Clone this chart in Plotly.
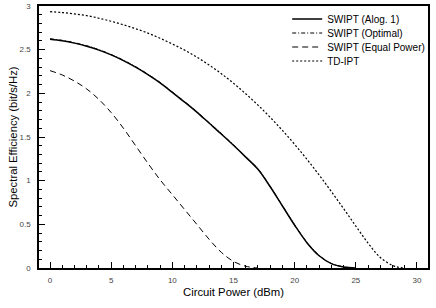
import plotly.graph_objects as go

# Circuit power (dBm) and spectral efficiency (bit/s/Hz)
x_alg1 = [0, 1, 2, 3, 4, 5, 6, 7, 8, 9, 10, 11, 12, 13, 14, 15, 16, 17, 18, 19, 20, 21, 22, 23, 24, 25]
y_alg1 = [2.62, 2.602, 2.575, 2.54, 2.495, 2.44, 2.375, 2.30, 2.215, 2.12, 2.01, 1.90, 1.785, 1.66, 1.535, 1.405, 1.27, 1.13, 0.93, 0.71, 0.49, 0.29, 0.14, 0.05, 0.012, 0.0]

x_opt = [0, 1, 2, 3, 4, 5, 6, 7, 8, 9, 10, 11, 12, 13, 14, 15, 16, 17, 18, 19, 20, 21, 22, 23, 24, 25]
y_opt = [2.625, 2.607, 2.58, 2.545, 2.50, 2.445, 2.38, 2.305, 2.22, 2.125, 2.015, 1.905, 1.79, 1.665, 1.54, 1.41, 1.275, 1.135, 0.935, 0.715, 0.495, 0.295, 0.145, 0.052, 0.013, 0.0]

x_eq = [0, 1, 2, 3, 4, 5, 6, 7, 8, 9, 10, 11, 12, 13, 14, 15, 16, 17]
y_eq = [2.26, 2.21, 2.14, 2.05, 1.93, 1.78, 1.60, 1.40, 1.20, 1.01, 0.84, 0.67, 0.50, 0.33, 0.18, 0.075, 0.02, 0.0]

x_td = [0, 1, 2, 3, 4, 5, 6, 7, 8, 9, 10, 11, 12, 13, 14, 15, 16, 17, 18, 19, 20, 21, 22, 23, 24, 25, 26, 27, 28, 28.5, 29]
y_td = [2.935, 2.925, 2.91, 2.89, 2.86, 2.825, 2.785, 2.74, 2.69, 2.63, 2.565, 2.495, 2.415, 2.325, 2.225, 2.115, 1.995, 1.865, 1.725, 1.575, 1.415, 1.245, 1.065, 0.875, 0.68, 0.48, 0.285, 0.12, 0.03, 0.008, 0.0]

names = ["SWIPT (Alog. 1)", "SWIPT (Optimal)", "SWIPT (Equal Power)", "TD-IPT"]

FONT = "Liberation Sans, Arial, sans-serif"

fig = go.Figure()
fig.add_trace(go.Scatter(x=x_alg1, y=y_alg1, name=names[0], mode="lines", legend="legend",
                         line=dict(color="black", width=1.5, shape="spline")))
fig.add_trace(go.Scatter(x=x_opt, y=y_opt, name=names[1], mode="lines", legend="legend2",
                         line=dict(color="black", width=1, dash="4px,2px,1px,2px", shape="spline")))
fig.add_trace(go.Scatter(x=x_eq, y=y_eq, name=names[2], mode="lines", legend="legend3",
                         line=dict(color="black", width=1, dash="6px,4px", shape="spline")))
fig.add_trace(go.Scatter(x=x_td, y=y_td, name=names[3], mode="lines", legend="legend4",
                         line=dict(color="black", width=1.2, dash="2px,2px", shape="spline")))
for tr in fig.data:
    tr.showlegend = True

axis_common = dict(
    showgrid=False, zeroline=False, showline=True, linecolor="black", linewidth=1.5,
    mirror=True, ticks="inside", ticklen=6, tickwidth=1, tickcolor="black",
    tickfont=dict(size=8, color="#444", family=FONT), automargin=False,
    minor=dict(ticks="inside", ticklen=3, tickwidth=1, tickcolor="black"),
)

fig.update_xaxes(range=[-0.9, 30.9], dtick=5, tick0=0, minor_dtick=1, ticklabelstandoff=4, **axis_common,
                 title=dict(text="Circuit Power (dBm)", font=dict(size=11.3, color="black", family=FONT), standoff=4))
fig.update_yaxes(range=[0, 3], dtick=0.5, tick0=0, minor_dtick=0.1, ticklabelstandoff=5, **axis_common,
                 title=dict(text="Spectral Efficiency (bit/s/Hz)", font=dict(size=11.3, color="black", family=FONT), standoff=0))

leg = dict(x=0.638, xanchor="left", yanchor="middle", bgcolor="rgba(0,0,0,0)",
           itemwidth=30, font=dict(size=10, family=FONT, color="black"))
fig.update_layout(
    width=436, height=308,
    margin=dict(l=39, r=8, t=5, b=40),
    paper_bgcolor="white", plot_bgcolor="white",
    font=dict(family=FONT, size=10, color="black"),
    showlegend=True,
    legend=dict(leg, y=0.9468),
    legend2=dict(leg, y=0.8935),
    legend3=dict(leg, y=0.8403),
    legend4=dict(leg, y=0.7871),
)

fig.write_html("out.html", config={"displayModeBar": False},
               post_script="document.body.style.margin='0';")
